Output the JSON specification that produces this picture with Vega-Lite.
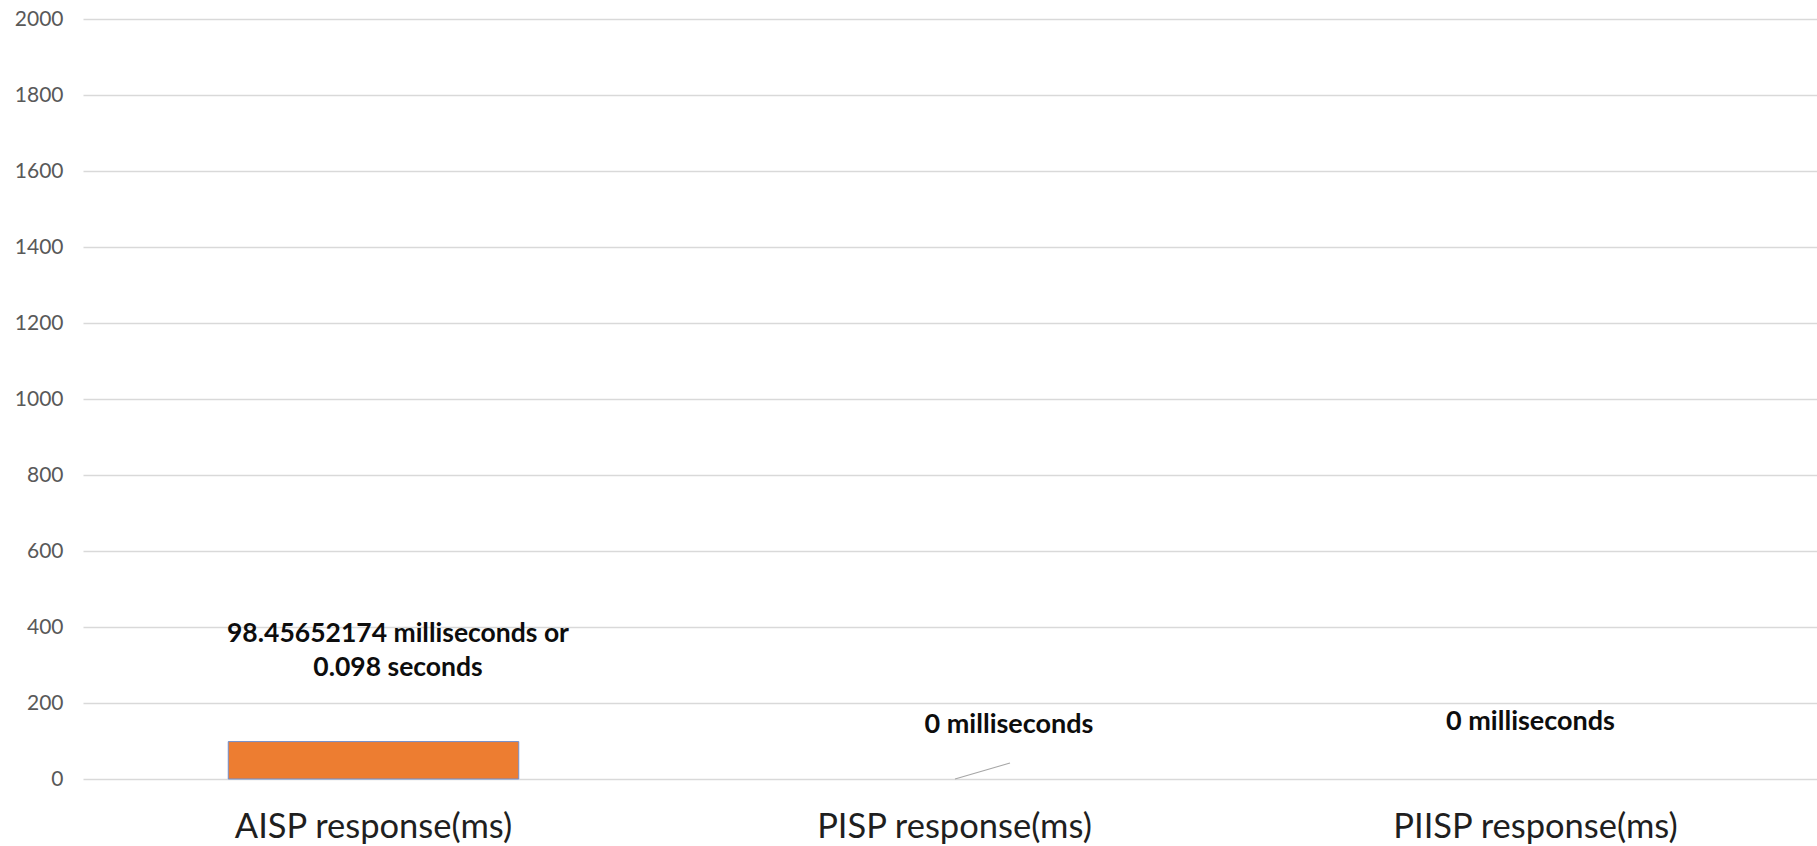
{
  "$schema": "https://vega.github.io/schema/vega-lite/v6.json",
  "autosize": "none",
  "width": 1743,
  "height": 760,
  "padding": {"left": 83, "top": 19, "right": 0, "bottom": 67},
  "background": "white",
  "config": {"view": {"stroke": null}, "font": "Lato"},
  "data": {"values": [
    {"category": "AISP response(ms)", "value": 98.45652174, "label": "98.45652174 milliseconds or\n0.098 seconds"},
    {"category": "PISP response(ms)", "value": 0, "label": "0 milliseconds"},
    {"category": "PIISP response(ms)", "value": 0, "label": "0 milliseconds"}
  ]},
  "encoding": {
    "x": {"field": "category", "type": "nominal", "sort": null,
      "scale": {"paddingInner": 0, "paddingOuter": 0},
      "axis": {"title": null, "domain": false, "ticks": false, "labelAngle": 0, "labelLimit": 0, "labelFont": "Lato", "labelFontSize": 34.5, "labelColor": "#1f1f1f", "labelPadding": 58, "labelBaseline": "alphabetic"}},
    "y": {"field": "value", "type": "quantitative",
      "scale": {"domain": [0, 2000], "nice": false},
      "axis": {"title": null, "domain": false, "ticks": false, "format": "d", "values": [0, 200, 400, 600, 800, 1000, 1200, 1400, 1600, 1800, 2000], "labelFont": "Lato", "labelFontSize": 21, "labelColor": "#595959", "labelPadding": 20, "gridColor": "#d9d9d9", "gridWidth": 1.5}}
  },
  "layer": [
    {
      "mark": {"type": "bar", "width": {"band": 0.5}, "fill": "#ED7D31", "stroke": "#6f8fd0", "strokeWidth": 1},
      "encoding": {
        "strokeOpacity": {"condition": {"test": "datum.value > 0", "value": 1}, "value": 0}
      }
    },
    {
      "transform": [{"filter": "datum.category === 'PISP response(ms)'"}],
      "mark": {"type": "rule", "color": "#a6a6a6", "strokeWidth": 1.2, "xOffset": 0.5, "x2Offset": 55.5, "y2Offset": -16},
      "encoding": {
        "x2": {"field": "category"},
        "y2": {"field": "value"}
      }
    },
    {
      "transform": [{"filter": "datum.category === 'AISP response(ms)'"}],
      "mark": {"type": "text", "font": "Lato", "fontWeight": "bold", "fontSize": 26.5, "color": "#0d0d0d", "align": "center", "baseline": "alphabetic", "lineBreak": "\n", "lineHeight": 34.5, "dx": 24.5, "dy": -99.6},
      "encoding": {"text": {"field": "label"}}
    },
    {
      "transform": [{"filter": "datum.category === 'PISP response(ms)'"}],
      "mark": {"type": "text", "font": "Lato", "fontWeight": "bold", "fontSize": 27, "color": "#0d0d0d", "align": "center", "baseline": "alphabetic", "dx": 54.5, "dy": -46},
      "encoding": {"text": {"field": "label"}}
    },
    {
      "transform": [{"filter": "datum.category === 'PIISP response(ms)'"}],
      "mark": {"type": "text", "font": "Lato", "fontWeight": "bold", "fontSize": 27, "color": "#0d0d0d", "align": "center", "baseline": "alphabetic", "dx": -5, "dy": -49},
      "encoding": {"text": {"field": "label"}}
    }
  ]
}
